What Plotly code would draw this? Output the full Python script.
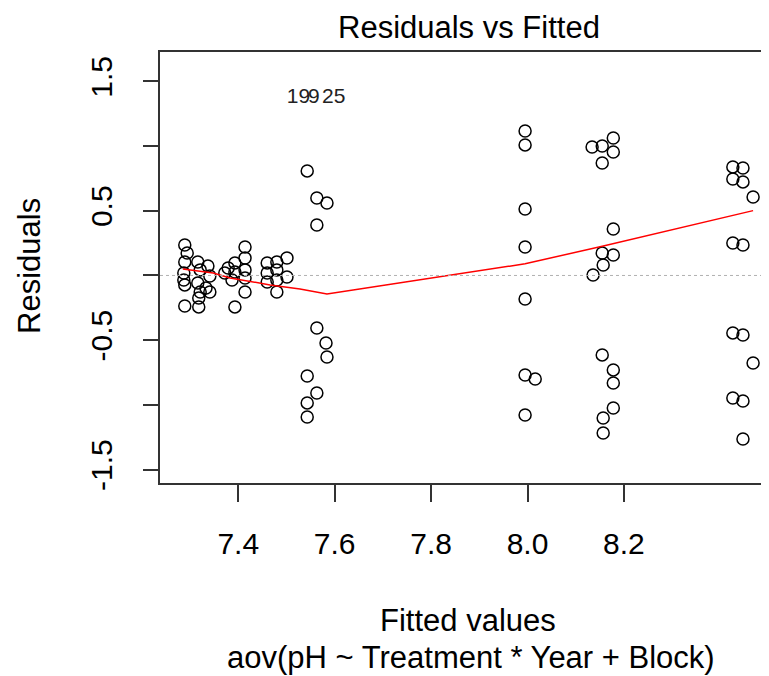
import plotly.graph_objects as go

# Residuals vs Fitted for aov(pH ~ Treatment * Year + Block)
fitted = [
    7.289, 7.294, 7.289, 7.287, 7.287, 7.289, 7.289,
    7.316, 7.316, 7.321, 7.318, 7.318, 7.321,
    7.337, 7.341, 7.341, 7.333,
    7.372, 7.393, 7.393, 7.387, 7.393, 7.379,
    7.414, 7.414, 7.414, 7.414, 7.414,
    7.460, 7.460, 7.460, 7.480, 7.480, 7.480, 7.480, 7.501, 7.501,
    7.543, 7.563, 7.584, 7.563, 7.563, 7.582, 7.584, 7.543, 7.563, 7.543, 7.543,
    7.995, 7.995, 7.995, 7.995, 7.995, 7.995, 8.016, 7.995,
    8.134, 8.155, 8.178, 8.178, 8.155, 8.178, 8.155, 8.178,
    8.157, 8.136, 8.155, 8.178, 8.178, 8.178, 8.157, 8.157,
    8.426, 8.447, 8.426, 8.447, 8.468, 8.426, 8.447,
    8.426, 8.447, 8.468, 8.426, 8.447, 8.447,
]
residuals = [
    0.236, 0.174, 0.104, 0.019, -0.035, -0.073, -0.236,
    0.104, -0.058, -0.128, -0.174, -0.243, 0.043,
    0.073, -0.004, -0.128, -0.097,
    0.019, 0.097, 0.027, -0.035, -0.243, 0.058,
    0.220, 0.135, 0.043, -0.019, -0.128,
    0.097, 0.019, -0.050, 0.104, 0.043, -0.035, -0.128, 0.135, -0.012,
    0.808, 0.599, 0.560, 0.390, -0.406, -0.522, -0.630, -0.777, -0.908, -0.985, -1.094,
    1.117, 1.009, 0.514, 0.220, -0.182, -0.769, -0.800, -1.078,
    0.993, 1.001, 1.063, 0.954, 0.869, 0.359, 0.174, 0.158,
    0.081, 0.004, -0.614, -0.730, -0.831, -1.024, -1.101, -1.217,
    0.839, 0.831, 0.746, 0.723, 0.607, 0.251, 0.236,
    -0.444, -0.460, -0.676, -0.947, -0.970, -1.264,
]

# lowess smoother
smooth_x = [7.285, 7.348, 7.383, 7.466, 7.528, 7.584, 7.995, 8.155, 8.468]
smooth_y = [0.050, 0.019, -0.019, -0.073, -0.104, -0.143, 0.090, 0.226, 0.501]

# point id labels
label_text = ["19", "9", "25"]
label_x = [7.525, 7.557, 7.598]
label_y = [1.372, 1.372, 1.372]

x_ticks = [7.4, 7.6, 7.8, 8.0, 8.2]
x_ticktext = ["7.4", "7.6", "7.8", "8.0", "8.2"]
y_ticks = [-1.5, -1.0, -0.5, 0.0, 0.5, 1.0, 1.5]
y_ticktext = ["-1.5", "", "-0.5", "", "0.5", "", "1.5"]

FONT = "Liberation Sans, Arial, sans-serif"
AX = "#333333"

fig = go.Figure()

fig.add_hline(y=0, line=dict(color="#b0b0b0", width=1, dash="3px,3px"))

fig.add_trace(go.Scatter(
    x=fitted, y=residuals,
    mode="markers",
    marker=dict(symbol="circle-open", size=12, color="black", line=dict(width=1.5)),
    showlegend=False,
))

fig.add_trace(go.Scatter(
    x=smooth_x, y=smooth_y,
    mode="lines",
    line=dict(color="red", width=1.5),
    showlegend=False,
))

fig.add_trace(go.Scatter(
    x=label_x, y=label_y,
    mode="text",
    text=label_text,
    textfont=dict(size=21, color="#222222", family=FONT),
    showlegend=False,
))

# page body adds an 8px offset, so the figure is 8px smaller than the window
annots = [
    dict(text="Residuals vs Fitted", x=0.508, y=1.058, size=31),
    dict(text="Fitted values", x=0.506, y=-0.318, size=31),
    dict(text="aov(pH ~ Treatment * Year + Block)", x=0.51, y=-0.405, size=31),
    dict(text="Residuals", x=-0.2135, y=0.5035, textangle=-90, size=31),
]
for a in annots:
    size = a.pop("size")
    fig.add_annotation(xref="paper", yref="paper", showarrow=False,
                       xanchor="center", yanchor="middle",
                       font=dict(family=FONT, color="black", size=size), **a)

fig.update_layout(
    width=761, height=668,
    margin=dict(l=152, r=0, t=44, b=193),
    plot_bgcolor="white",
    paper_bgcolor="white",
    font=dict(family=FONT, size=30, color="black"),
    xaxis=dict(
        range=[7.2376, 8.501],
        tickvals=x_ticks, ticktext=x_ticktext,
        showgrid=False, zeroline=False,
        showline=True, linecolor=AX, linewidth=1.5, mirror=True,
        ticks="outside", ticklen=17, tickwidth=1.5, tickcolor=AX,
        ticklabelstandoff=16,
    ),
    yaxis=dict(
        range=[-1.604, 1.727],
        tickvals=y_ticks, ticktext=y_ticktext,
        tickangle=-90,
        showgrid=False, zeroline=False,
        showline=True, linecolor=AX, linewidth=1.5, mirror=False,
        ticks="outside", ticklen=15, tickwidth=1.5, tickcolor=AX,
        ticklabelstandoff=19,
    ),
)

fig.write_html("out.html")
